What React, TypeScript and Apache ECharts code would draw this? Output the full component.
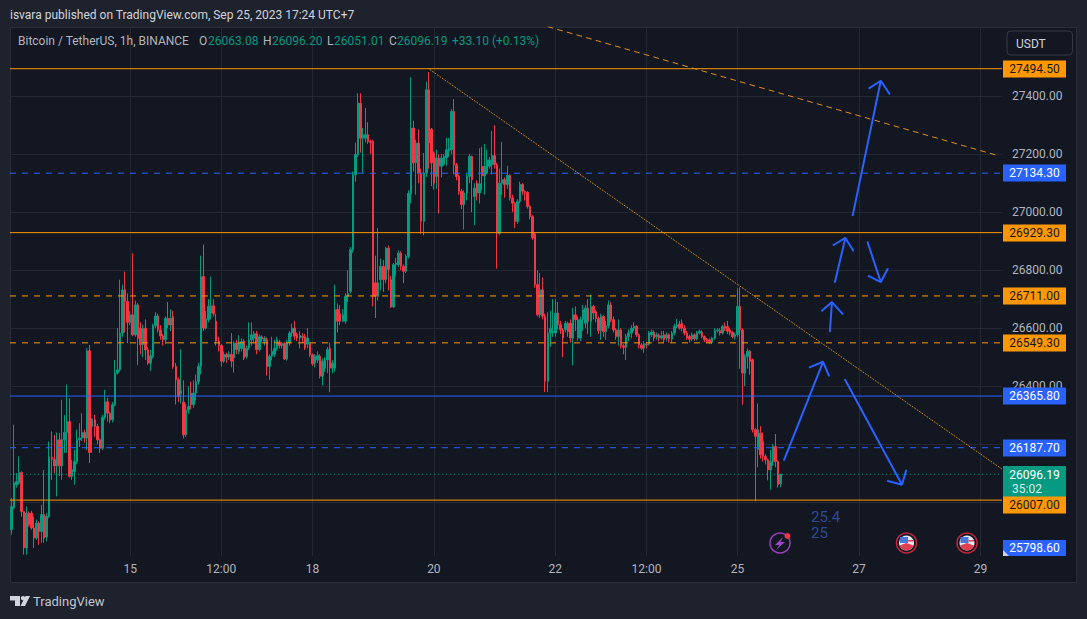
import React, { useEffect, useRef } from "react";
import * as echarts from "echarts";

const BG_PAGE = "#1e222d";
const BG_PANEL = "#131722";
const GRID = "#242832";
const UP = "#089981";
const DOWN = "#f23645";
const ORANGE = "#ff9800";
const BLUE = "#2962ff";
const TEXT = "#b2b5be";
const FONT = "Roboto";

// each row: open, close, low, high (hourly bars, Sep 13 01:00 onward)
const barsSep13: number[][] = [
  [25905,25985,25888,26014],[25980,26066,25975,26267],[26060,26071,26050,26100],[26066,26102,26060,26158],[26102,25968,25950,26106],
  [25968,25842,25819,25970],[25842,25962,25819,25985],[25962,25922,25915,25968],[25962,25911,25905,25970],[25911,25876,25842,25950],
  [25876,25928,25870,25940],[25928,25899,25853,25934],[25899,25957,25860,25991],[25957,25876,25860,26111],[25880,25951,25865,25962],
  [25951,26155,25945,26209],[26155,26148,26077,26244],[26148,26125,26100,26232],[26125,26215,26020,26240],[26215,26125,26090,26238],
  [26125,26215,26077,26353],[26215,26240,26170,26300],[26240,26278,26170,26405],[26278,26089,26085,26358],[26089,26112,26077,26146],
  [26106,26140,26060,26181],[26140,26215,26130,26250],[26215,26221,26190,26272],[26221,26240,26210,26307],[26240,26221,26205,26250],
  [26221,26522,26180,26531],[26522,26171,26135,26542],[26261,26286,26170,26290],[26284,26261,26225,26301],[26261,26215,26200,26270],
  [26215,26186,26170,26220],[26186,26292,26180,26301],[26292,26346,26285,26387],[26346,26307,26278,26360],[26307,26284,26272,26312],
  [26284,26336,26275,26345],[26336,26445,26330,26490],[26445,26456,26440,26600],[26456,26583,26450,26767],[26583,26732,26570,26750],
  [26732,26692,26585,26795],[26692,26620,26548,26720],
];
const barsSep15: number[][] = [
  [26620,26646,26610,26660],[26646,26577,26572,26858],[26577,26680,26570,26695],[26680,26565,26473,26686],[26600,26543,26510,26620],
  [26543,26600,26500,26612],[26600,26525,26490,26630],[26525,26479,26473,26535],[26479,26505,26452,26525],[26502,26608,26495,26615],
  [26608,26642,26600,26655],[26642,26594,26585,26650],[26594,26573,26560,26610],[26573,26560,26540,26580],[26560,26634,26545,26640],
  [26634,26611,26600,26690],[26611,26634,26590,26665],[26640,26468,26460,26660],[26468,26422,26337,26480],[26422,26364,26345,26430],
  [26375,26385,26340,26527],[26345,26232,26220,26420],[26232,26318,26225,26340],[26318,26330,26305,26400],[26376,26336,26320,26415],
  [26336,26376,26325,26420],[26376,26416,26350,26440],[26416,26468,26405,26480],[26468,26778,26440,26850],[26778,26600,26590,26888],
  [26600,26632,26595,26660],[26630,26675,26620,26700],[26652,26677,26630,26778],[26677,26650,26640,26700],[26624,26555,26540,26650],
  [26555,26540,26520,26570],[26540,26486,26468,26545],[26486,26509,26480,26520],[26509,26500,26480,26515],[26500,26510,26490,26520],
  [26509,26486,26465,26583],[26497,26549,26447,26555],[26549,26526,26510,26560],[26520,26549,26510,26575],[26530,26553,26520,26565],
  [26555,26497,26490,26562],[26502,26531,26495,26540],[26531,26560,26525,26620],[26560,26577,26540,26620],[26566,26581,26550,26590],
  [26581,26526,26510,26590],[26526,26570,26520,26578],[26570,26563,26550,26575],[26555,26565,26540,26572],[26560,26468,26437,26567],
  [26468,26503,26422,26510],[26503,26520,26490,26570],[26510,26530,26500,26560],[26530,26560,26522,26570],[26552,26540,26530,26560],
  [26540,26547,26530,26553],[26547,26494,26490,26552],[26494,26551,26488,26560],[26551,26583,26540,26590],[26583,26600,26570,26615],
  [26600,26572,26560,26625],[26578,26566,26555,26585],[26566,26575,26530,26590],[26572,26568,26550,26582],[26570,26532,26525,26580],
  [26545,26566,26530,26600],[26548,26508,26500,26552],[26508,26477,26470,26512],[26480,26502,26465,26510],[26490,26505,26480,26520],
  [26503,26434,26427,26510],[26434,26486,26402,26495],[26462,26491,26450,26500],[26491,26526,26445,26535],[26530,26462,26379,26550],
  [26462,26480,26445,26490],
];
const barsSep18: number[][] = [
  [26462,26664,26450,26750],[26664,26624,26585,26685],[26650,26624,26610,26680],[26624,26646,26620,26665],[26624,26710,26615,26720],
  [26710,26720,26690,26800],[26727,26871,26720,26880],[26871,27129,26860,27140],[27129,27198,27105,27240],[27198,27376,27190,27410],
  [27376,27255,27205,27410],[27255,27267,27135,27290],[27255,27267,27240,27359],[27267,27244,27235,27310],[27244,27240,27200,27250],
  [27244,26710,26675,27250],[26756,26710,26635,26850],[26710,26756,26695,26945],[26767,26813,26730,26840],[26813,26767,26725,26835],
  [26767,26876,26755,26880],[26876,26802,26730,26885],[26767,26673,26670,26780],[26673,26819,26670,26825],[26819,26825,26780,26842],
  [26819,26859,26810,26868],[26859,26813,26800,26865],[26813,26796,26755,26820],[26796,26847,26790,26855],[26847,27065,26840,27075],
  [27063,27290,27030,27465],[27290,27170,27140,27315],[27170,27238,27060,27250],[27238,27134,27100,27285],[27134,26968,26925,27150],
  [26968,27135,26920,27204],[27135,27422,27120,27450],[27422,27238,27150,27483],[27286,27170,27090,27290],[27204,27100,27078,27210],
  [27123,27187,27080,27215],[27187,27158,26995,27200],[27158,27187,27120,27200],[27165,27192,27160,27200],[27187,27215,27160,27256],
  [27210,27220,27190,27256],[27215,27347,27200,27355],[27347,27163,27130,27390],[27163,27123,27110,27170],[27123,27072,27060,27130],
  [27072,27026,27010,27080],[27026,27066,26940,27075],[27066,27123,27040,27135],[27123,27192,27100,27200],[27192,27112,27000,27195],
  [27054,27083,26955,27100],[27100,27066,27040,27110],[27066,27098,27030,27220],[27158,27125,27075,27225],[27125,27158,27060,27235],
  [27135,27180,27130,27215],[27158,27180,27150,27190],[27164,27195,27130,27280],[27195,27164,27150,27300],[27164,26927,26805,27170],
  [26927,27100,26920,27150],[27100,27112,27060,27242],[27112,27095,27050,27120],[27095,27126,27080,27160],[27126,27049,27040,27130],
  [27049,27031,27000,27060],[27031,26968,26945,27035],[26968,27037,26960,27045],[27037,27095,27030,27105],[27095,27072,27060,27100],
  [27072,27068,27040,27075],[27068,27020,27012,27072],[27020,26985,26975,27025],[26985,26911,26905,26990],[26925,26750,26740,26930],
  [26750,26646,26640,26800],[26646,26732,26635,26790],[26732,26641,26630,26775],[26641,26417,26380,26650],[26417,26583,26380,26655],
];
const barsSep22: number[][] = [
  [26583,26600,26535,26660],[26585,26590,26570,26700],[26583,26652,26570,26700],[26652,26612,26595,26690],[26612,26594,26580,26625],
  [26594,26566,26500,26600],[26594,26617,26585,26625],[26617,26588,26570,26622],[26617,26566,26550,26630],[26566,26646,26472,26670],
  [26646,26629,26590,26675],[26566,26629,26555,26640],[26566,26629,26555,26640],[26629,26663,26590,26680],[26617,26669,26600,26680],
  [26669,26623,26580,26700],[26623,26675,26570,26715],[26675,26652,26630,26680],[26657,26634,26620,26662],[26634,26592,26580,26640],
  [26592,26640,26560,26650],[26640,26588,26570,26645],[26588,26608,26560,26625],[26608,26680,26600,26695],[26680,26629,26620,26690],
  [26629,26594,26585,26640],[26594,26571,26560,26600],[26571,26594,26540,26630],[26594,26539,26530,26600],[26539,26534,26510,26545],
  [26534,26571,26490,26580],[26571,26583,26555,26595],[26583,26600,26565,26610],[26600,26606,26590,26620],[26606,26577,26570,26610],
  [26577,26542,26530,26582],[26542,26531,26525,26548],[26531,26546,26515,26555],[26545,26542,26530,26552],[26546,26583,26540,26590],
  [26577,26586,26570,26595],[26586,26566,26555,26592],[26571,26577,26560,26585],[26575,26566,26555,26582],[26566,26574,26560,26590],
  [26577,26560,26550,26590],[26566,26577,26555,26585],[26577,26562,26550,26582],[26562,26583,26550,26590],[26583,26606,26575,26615],
  [26606,26611,26600,26632],[26614,26600,26595,26625],[26617,26600,26590,26630],[26600,26583,26575,26610],[26583,26566,26560,26590],
  [26571,26562,26550,26578],[26562,26577,26555,26585],[26577,26563,26557,26582],[26563,26583,26558,26590],[26583,26589,26578,26595],
  [26586,26571,26565,26592],[26571,26560,26552,26575],[26562,26554,26548,26566],[26560,26551,26545,26565],[26551,26566,26545,26570],
  [26566,26591,26560,26600],[26591,26594,26585,26600],[26592,26583,26575,26600],[26583,26606,26578,26612],[26606,26600,26590,26620],
  [26606,26589,26580,26625],[26594,26583,26575,26600],[26585,26571,26565,26590],[26571,26577,26560,26585],
];
const barsSep25: number[][] = [
  [26577,26675,26570,26738],[26675,26594,26460,26740],[26594,26445,26336,26600],[26445,26502,26400,26510],[26502,26520,26460,26530],
  [26520,26485,26440,26525],[26491,26250,26240,26495],[26250,26227,26003,26255],[26181,26250,26120,26340],[26238,26163,26150,26262],
  [26209,26157,26140,26240],[26157,26146,26130,26165],[26146,26111,26075,26150],[26111,26140,26043,26180],[26140,26192,26125,26200],
  [26192,26140,26120,26235],[26140,26060,26050,26145],[26063.08,26096.19,26051.01,26096.2],
];
const candles = [...barsSep13, ...barsSep15, ...barsSep18, ...barsSep22, ...barsSep25];

const slotCount = 392;
const xTickIndices = [47, 83, 119, 167, 215, 251, 287, 335, 383];
const xTickLabels = ["15", "12:00", "18", "20", "22", "12:00", "25", "27", "29"];
const yGridValues = [26000, 26200, 26400, 26600, 26800, 27000, 27200, 27400];
const yLabelValues = [26400, 26600, 26800, 27000, 27200, 27400];
const yMin = 25814.3;
const yMax = 27638.4;

const orangeSolidLevels = [27494.5, 26929.3, 26007];
const orangeDashedLevels = [26711, 26549.3];
const blueSolidLevels = [26365.8];
const blueDashedLevels = [27134.3, 26187.7];
const lastPrice = 26096.19;
const offscreenLevel = 25798.6;

// points as [bar position, price]
const arrow1 = [[305.4,26146],[320.8,26484],[315.2,26464],[320.8,26484],[323.1,26436]];
const arrow2 = [[329.5,26422],[352,26060],[346.1,26074],[352,26060],[353.6,26109]];
const arrow3 = [[323.5,26589],[324.3,26690],[320.1,26658],[324.3,26690],[328.5,26649]];
const arrow4 = [[325.5,26759],[329.6,26911],[324.6,26885],[329.6,26911],[332.7,26868]];
const arrow5 = [[338.4,26896],[343.6,26759],[338.5,26781],[343.6,26759],[346.3,26804]];
const arrow6 = [[332.5,26989],[343.6,27453],[338.8,27426],[343.6,27453],[347,27408]];
const dottedTrend = [[165.5,27491],[391.5,26114]];
const dashedTrend = [[212.1,27639.5],[389.9,27195]];

const legendParts: [string, string, number][] = [
  ["Bitcoin / TetherUS, 1h, BINANCE", TEXT, 18],
  ["O", TEXT, 199], ["26063.08", UP, 208],
  ["H", TEXT, 263], ["26096.20", UP, 272],
  ["L", TEXT, 327], ["26051.01", UP, 334],
  ["C", TEXT, 389], ["26096.19", UP, 397],
  ["+33.10 (+0.13%)", UP, 452],
];

function price(y: number, chart: any) {
  return chart.convertToPixel({ yAxisIndex: 0 }, y);
}

export default function App() {
  const ref = useRef<HTMLDivElement>(null);
  useEffect(() => {
    document.body.style.margin = "0";
    const chart = echarts.init(ref.current!, undefined, { renderer: "svg" });
    const categories = Array.from({ length: slotCount }, (_, i) => {
      const k = xTickIndices.indexOf(i);
      return k >= 0 ? xTickLabels[k] : "";
    });
    const tickFn = (i: number) => xTickIndices.includes(i);
    const overlay = (data: number[][], color: string, width: number, type: any = "solid") => ({
      type: "line",
      xAxisIndex: 1,
      yAxisIndex: 0,
      data,
      symbol: "none",
      silent: true,
      z: 6,
      lineStyle: { color, width, type, cap: "round" },
      clip: true,
    });
    const level = (v: number, color: string, type: any = "solid") => ({
      ...overlay([[-0.5, v], [slotCount - 0.5, v]], color, 1, type),
      lineStyle: { color, width: 1, type },
      z: 5,
    });
    chart.setOption({
      animation: false,
      backgroundColor: "transparent",
      textStyle: { fontFamily: FONT },
      grid: { left: 10, top: 27, width: 992, height: 529, containLabel: false },
      xAxis: [
        {
          type: "category",
          data: categories,
          boundaryGap: true,
          axisLine: { show: false },
          axisTick: { show: false },
          axisLabel: {
            interval: tickFn,
            color: TEXT,
            fontSize: 12,
            fontFamily: FONT,
            margin: 7,
            hideOverlap: false,
          },
          splitLine: { show: true, interval: tickFn, alignWithLabel: true, lineStyle: { color: GRID, width: 1 } },
        },
        { type: "value", min: -0.5, max: slotCount - 0.5, show: false, splitLine: { show: false } },
      ],
      yAxis: {
        type: "value",
        position: "right",
        min: yMin,
        max: yMax,
        scale: true,
        axisLine: { show: false },
        axisTick: { show: false, customValues: yGridValues },
        axisLabel: {
          customValues: yLabelValues,
          color: TEXT,
          fontSize: 12,
          fontFamily: FONT,
          margin: 10,
          formatter: (v: number) => v.toFixed(2),
        },
        splitLine: { show: true, lineStyle: { color: GRID, width: 1 } },
      },
      series: [
        {
          type: "candlestick",
          xAxisIndex: 0,
          yAxisIndex: 0,
          data: candles,
          barWidth: 2,
          silent: true,
          itemStyle: { color: UP, color0: DOWN, borderColor: UP, borderColor0: DOWN, borderWidth: 1 },
        },
        ...orangeSolidLevels.map((v) => level(v, ORANGE)),
        ...orangeDashedLevels.map((v) => level(v, ORANGE, [6, 6])),
        ...blueSolidLevels.map((v) => level(v, BLUE)),
        ...blueDashedLevels.map((v) => level(v, BLUE, [6, 6])),
        level(lastPrice, UP, [1, 3]),
        overlay(dottedTrend, "#c98a1e", 1, [1, 2]),
        overlay(dashedTrend, "#e08e1a", 1, [5, 5]),
        overlay(arrow1, BLUE, 2),
        overlay(arrow2, BLUE, 2),
        overlay(arrow3, BLUE, 2),
        overlay(arrow4, BLUE, 2),
        overlay(arrow5, BLUE, 2),
        overlay(arrow6, BLUE, 2),
      ],
    });

    const box = (value: number, color: string, textColor: string, shift = 0) => {
      const cy = Math.round(price(value, chart)) + shift;
      return [
        { type: "rect", z: 100, shape: { x: 1003, y: cy - 8.5, width: 63, height: 17 }, style: { fill: color } },
        {
          type: "text",
          z: 101,
          x: 1034.5,
          y: cy,
          style: {
            text: value.toFixed(2),
            fill: textColor,
            font: `12px ${FONT}`,
            textAlign: "center",
            textVerticalAlign: "middle",
          },
        },
      ];
    };
    const flag = (cx: number, cy: number) => [
      { type: "circle", z: 50, shape: { cx, cy, r: 10 }, style: { fill: BG_PANEL, stroke: "#c2253c", lineWidth: 1.5 } },
      { type: "circle", z: 51, shape: { cx, cy, r: 7.5 }, style: { fill: "#e8e8ee" } },
      { type: "sector", z: 52, shape: { cx, cy, r: 7.5, r0: 0, startAngle: 0.35, endAngle: Math.PI - 0.35 }, style: { fill: "#e0404f" } },
      { type: "rect", z: 53, shape: { x: cx - 6.5, y: cy - 6, width: 8, height: 6 }, style: { fill: "#4a78d8" } },
      { type: "rect", z: 53, shape: { x: cx + 1.5, y: cy - 3, width: 5.5, height: 1.5 }, style: { fill: "#e0404f" } },
    ];
    const plainText = (text: string, x: number, y: number, fill: string, size: number, z = 60) => ({
      type: "text",
      z,
      x,
      y,
      style: { text, fill, font: `${size}px ${FONT}`, textVerticalAlign: "middle" },
    });
    chart.setOption({
      graphic: {
        elements: [
          plainText("isvara published on TradingView.com, Sep 25, 2023 17:24 UTC+7", 10, 14.5, "#d1d4dc", 12),
          ...legendParts.map(([t, c, x]) => plainText(t, x, 41, c, 12)),
          { type: "rect", z: 60, shape: { x: 1007, y: 31, width: 65.5, height: 24, r: 4 }, style: { fill: BG_PANEL, stroke: "#363a45", lineWidth: 1 } },
          plainText("USDT", 1016, 43.5, "#d1d4dc", 12, 61),
          ...orangeSolidLevels.flatMap((v) => box(v, ORANGE, BG_PANEL, v === 26007 ? 5 : 0)),
          ...orangeDashedLevels.flatMap((v) => box(v, ORANGE, BG_PANEL)),
          ...blueSolidLevels.flatMap((v) => box(v, BLUE, "#ffffff")),
          ...blueDashedLevels.flatMap((v) => box(v, BLUE, "#ffffff")),
          { type: "rect", z: 99, shape: { x: 1003, y: 466, width: 63, height: 31 }, style: { fill: UP } },
          { type: "text", z: 101, x: 1034.5, y: 474.5, style: { text: lastPrice.toFixed(2), fill: "#ffffff", font: `12px ${FONT}`, textAlign: "center", textVerticalAlign: "middle" } },
          { type: "text", z: 101, x: 1012, y: 488.5, style: { text: "35:02", fill: "#d7efe9", font: `12px ${FONT}`, textVerticalAlign: "middle" } },
          { type: "rect", z: 100, shape: { x: 1003, y: 540, width: 63, height: 16 }, style: { fill: BLUE } },
          { type: "text", z: 101, x: 1034.5, y: 548, style: { text: offscreenLevel.toFixed(2), fill: "#ffffff", font: `12px ${FONT}`, textAlign: "center", textVerticalAlign: "middle" } },
          { type: "polygon", z: 102, shape: { points: [[1003, 550], [1009, 556], [1003, 556]] }, style: { fill: "#d1d4dc" } },
          plainText("25.4", 811, 517, "#2b4a96", 15),
          plainText("25", 811, 533, "#2b4a96", 15),
          { type: "circle", z: 50, shape: { cx: 780, cy: 543, r: 10 }, style: { fill: BG_PANEL, stroke: "#9c3fc0", lineWidth: 1.5 } },
          { type: "polygon", z: 51, shape: { points: [[783, 537], [775, 545], [779.5, 545], [776, 550], [785, 542], [780.5, 542]] }, style: { fill: "#a044c8" } },
          { type: "circle", z: 52, shape: { cx: 787.5, cy: 536, r: 3 }, style: { fill: DOWN } },
          ...flag(906.5, 543),
          ...flag(967, 543),
          { type: "polygon", z: 60, shape: { points: [[10, 596], [20, 596], [20, 606], [15, 606], [15, 600.5], [10, 600.5]] }, style: { fill: "#d1d4dc" } },
          { type: "circle", z: 60, shape: { cx: 23, cy: 598.2, r: 2.2 }, style: { fill: "#d1d4dc" } },
          { type: "polygon", z: 60, shape: { points: [[25.5, 596], [30, 596], [25, 606], [20.5, 606]] }, style: { fill: "#d1d4dc" } },
          plainText("TradingView", 33, 601.5, "#c3c6ce", 13),
        ],
      },
    });
    return () => chart.dispose();
  }, []);
  return (
    <div style={{ position: "fixed", left: 0, top: 0, width: 1087, height: 619, background: BG_PAGE, overflow: "hidden" }}>
      <div style={{ position: "absolute", left: 10, top: 27, width: 1067, height: 556, background: BG_PANEL, border: "1px solid #2a2e39", boxSizing: "border-box" }} />
      <div ref={ref} style={{ position: "absolute", left: 0, top: 0, width: 1087, height: 619 }} />
    </div>
  );
}
